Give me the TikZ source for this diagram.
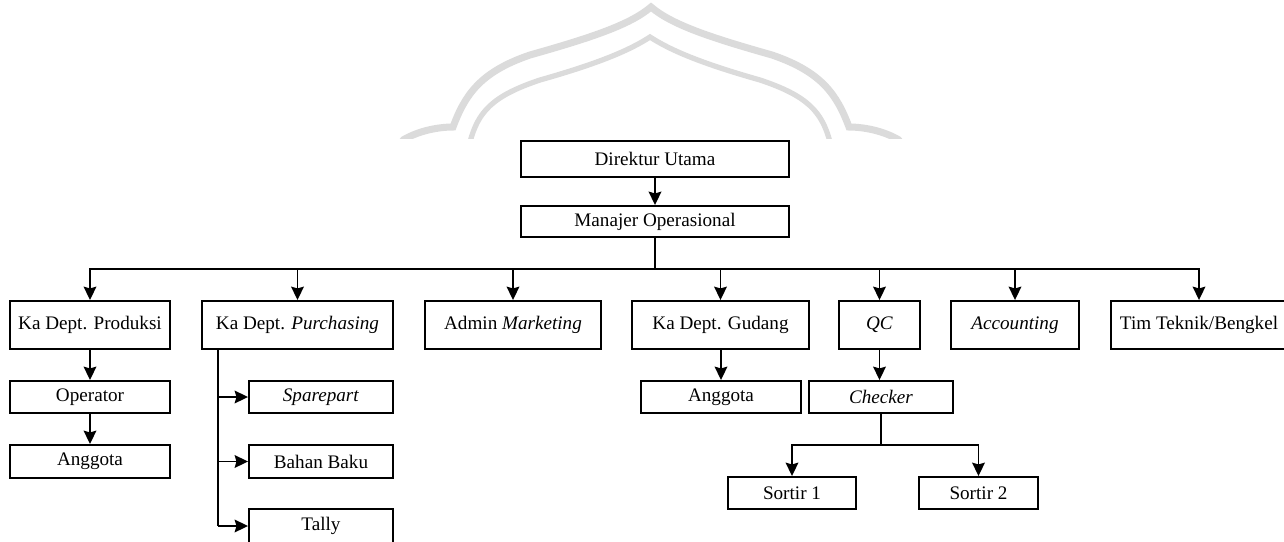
\documentclass[tikz,border=0pt]{standalone}
\usepackage{fontspec}
\setmainfont{Liberation Serif}
\usetikzlibrary{arrows.meta}
\tikzset{
	box/.style={draw, line width=1.1pt, rectangle, inner sep=0pt, font=\fontsize{10.9}{12}\selectfont},
	arr/.style={line width=1.1pt, -{Stealth[length=7.6pt, width=7.2pt, inset=1pt]}},
	wire/.style={line width=1.1pt},
	mark line/.style={line width=#1, color=black!14, line cap=round}
}

\begin{document}
\begin{tikzpicture}[x=0.02cm, y=-0.02cm]
			%%%%% START %%%%%
			\useasboundingbox (0, 0) rectangle (1284, 541);
			
			% faint arch in the background
			\begin{scope}
				\clip (380, 0) rectangle (920, 138);
				\draw[mark line=4pt] (403, 140) .. controls (420, 130) and (440, 127) .. (453, 127) .. controls (465, 95) and (480, 72) .. (530, 55) .. controls (590, 38) and (630, 25) .. (651, 7) .. controls (672, 25) and (712, 38) .. (772, 55) .. controls (822, 72) and (837, 95) .. (849, 127) .. controls (862, 127) and (882, 130) .. (899, 140);
				\draw[mark line=3pt] (470, 142) .. controls (478, 112) and (492, 96) .. (540, 80) .. controls (600, 63) and (630, 50) .. (650, 37) .. controls (670, 50) and (700, 63) .. (760, 80) .. controls (808, 96) and (822, 112) .. (830, 142);
			\end{scope}
			
			% top
			\node[box, minimum width=5.36cm, minimum height=0.72cm] (dirut) at (655, 159) {Direktur Utama};
			\node[box, minimum width=5.36cm, minimum height=0.62cm] (manajer) at (655, 221.5) {Manajer Operasional};
			
			% departments
			\node[box, minimum width=3.2cm, minimum height=0.96cm] (produksi) at (90, 325) {Ka Dept. Produksi};
			\node[box, minimum width=3.82cm, minimum height=0.96cm] (purchasing) at (297.5, 325) {Ka Dept. \textit{Purchasing}};
			\node[box, minimum width=3.52cm, minimum height=0.96cm] (marketing) at (513, 325) {Admin \textit{Marketing}};
			\node[box, minimum width=3.54cm, minimum height=0.96cm] (gudang) at (720.5, 325) {Ka Dept. Gudang};
			\node[box, minimum width=1.62cm, minimum height=0.96cm] (qc) at (879.5, 325) {\textit{QC}};
			\node[box, minimum width=2.56cm, minimum height=0.96cm] (accounting) at (1015, 325) {\textit{Accounting}};
			\node[box, minimum width=3.52cm, minimum height=0.96cm] (teknik) at (1199, 325) {Tim Teknik/Bengkel};
			
			% below the departments
			\node[box, minimum width=3.2cm, minimum height=0.64cm] (operator) at (90, 397) {Operator};
			\node[box, minimum width=3.2cm, minimum height=0.66cm] (anggotaP) at (90, 461.5) {Anggota};
			\node[box, minimum width=2.88cm, minimum height=0.64cm] (sparepart) at (321, 397) {\textit{Sparepart}};
			\node[box, minimum width=2.88cm, minimum height=0.66cm] (bahanbaku) at (321, 461.5) {Bahan Baku};
			\node[box, minimum width=2.88cm, minimum height=0.68cm] (tally) at (321, 526) {Tally};
			\node[box, minimum width=3.2cm, minimum height=0.64cm] (anggotaG) at (721, 397) {Anggota};
			\node[box, minimum width=2.88cm, minimum height=0.64cm] (checker) at (881, 397) {\textit{Checker}};
			\node[box, minimum width=2.56cm, minimum height=0.64cm] (sortirA) at (792, 493) {Sortir 1};
			\node[box, minimum width=2.38cm, minimum height=0.64cm] (sortirB) at (978.5, 493) {Sortir 2};
			
			% connectors
			\coordinate (bus) at (655, 269);
			\coordinate (pline) at (218, 0);
			\coordinate (cbus) at (881, 445);
			
			\draw[arr] (dirut) -- (manajer);
			\draw[wire] (manajer) -- (bus);
			\foreach \d in {produksi, purchasing, marketing, gudang, qc, accounting, teknik}
				\draw[arr] (bus) -| (\d.north);
			
			\draw[arr] (produksi) -- (operator);
			\draw[arr] (operator) -- (anggotaP);
			
			\draw[wire] (purchasing.south -| pline) -- (tally.west -| pline);
			\foreach \d in {sparepart, bahanbaku, tally}
				\draw[arr] (\d.west -| pline) -- (\d.west);
			
			\draw[arr] (gudang.south -| anggotaG) -- (anggotaG);
			\draw[arr] (qc.south) -- (qc.south |- checker.north);
			\draw[wire] (checker) -- (cbus);
			\draw[arr] (cbus) -| (sortirA);
			\draw[arr] (cbus) -| (sortirB);
			
			%%%%% END %%%%%
		\end{tikzpicture}
\end{document}
